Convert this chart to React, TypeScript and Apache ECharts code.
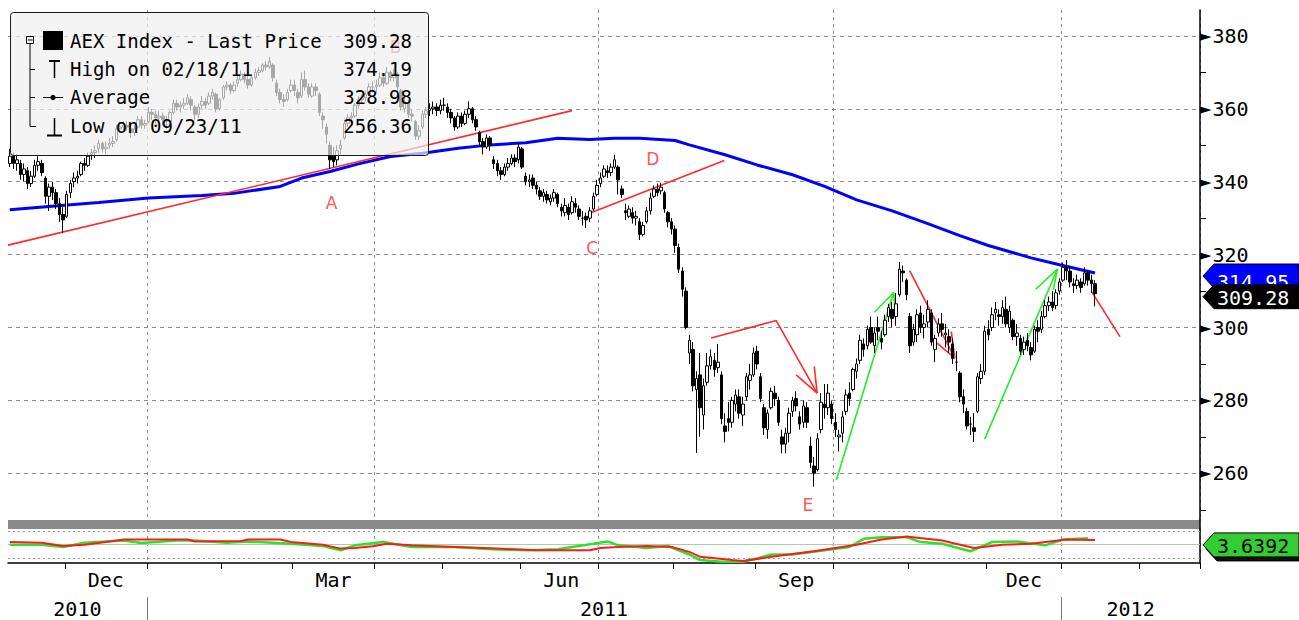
import React, { useEffect, useRef } from "react";
import * as echarts from "echarts";

// ---------- calendar (trading days shown on the category axis) ----------
const START_YEAR = 2010;
const START_MONTH = 10; // November (0-based)
const START_DAY = 9;
const CATEGORY_COUNT = 335;
const HOLIDAYS = ["2011-04-22", "2011-04-25", "2011-12-26"];
const MONTH_NAMES = ["Jan", "Feb", "Mar", "Apr", "May", "Jun", "Jul", "Aug", "Sep", "Oct", "Nov", "Dec"];
const LABELLED_MONTHS = ["03", "06", "09", "12"];
const QUARTER_MONTHS = ["01", "04", "07", "10"];

// ---------- axes ----------
const PRICE_MIN = 247.2;
const PRICE_MAX = 387.1;
const PRICE_TICKS = [260, 280, 300, 320, 340, 360, 380];
const PRICE_MINOR_TICKS = [250, 270, 290, 310, 330, 350, 370];
const OSC_MIN = -14;
const OSC_MAX = 12;
const OSC_GUIDES = [10, -10];

// ---------- summary values ----------
const LAST_PRICE = 309.28;
const MA_LAST = 314.95;
const OSC_LAST = 3.6392;
const legendRows: [string, string][] = [
  ["AEX Index - Last Price", "309.28"],
  ["High on 02/18/11", "374.19"],
  ["Average", "328.98"],
  ["Low on 09/23/11", "256.36"],
];

// ---------- daily candles [open, close, low, high] ----------
const ohlcNov2010 = [
  [345, 347, 344, 349], [347, 345, 343.5, 348], [345, 346, 343, 347.5], [345, 342, 340.5, 346],
  [342, 343.5, 340, 345], [343, 339.5, 338, 344], [339.5, 341.5, 338.5, 343], [341.5, 344.5, 341, 346],
  [344.5, 345.5, 343, 347], [345, 342.5, 341.5, 346], [341, 336, 334, 341.5], [336, 338.5, 332, 339.5],
  [338.5, 337, 335, 340], [337, 334, 332.5, 338], [334, 331, 329, 335.5], [331, 329.5, 326, 333],
];
const ohlcDec2010 = [
  [330.5, 336.5, 330, 337.5], [337, 339.5, 335.5, 340.5], [340, 341, 338.5, 342.5], [341, 341.5, 339.5, 343],
  [342, 345, 341.5, 345.5], [345, 344.5, 343, 346.5], [344.5, 347, 344, 348], [347.5, 348, 346, 349],
  [348, 348.5, 346.5, 350], [349, 350.5, 348, 351.5], [350.5, 349, 348, 351], [349, 349.5, 347.5, 351],
  [350, 350.5, 349, 352], [350.5, 351, 349.5, 352.5], [351.5, 354.5, 351, 355.5], [354.5, 355, 353.5, 356.5],
  [355, 355.5, 354, 356.5], [355.5, 355, 354, 356.5], [354.5, 353.5, 352, 355.5], [353.5, 354.5, 352.5, 355.5],
  [355, 357, 354.5, 358], [357, 355.5, 354.5, 358], [355.5, 356, 354.5, 357],
];
const ohlcJan2011 = [
  [356.5, 359, 356, 360.5], [359, 358.5, 357, 360], [358.5, 357.5, 356, 359.5], [357.5, 358, 356.5, 359.5],
  [358, 357, 355.5, 359], [357, 356.5, 354.5, 358], [356.5, 359, 356, 359.5], [359, 361.5, 358.5, 362.5],
  [361.5, 360.5, 359.5, 362.5], [360.5, 361, 359, 362], [361, 361.5, 360, 363], [361.5, 363, 361, 364],
  [362.5, 361, 359.5, 363.5], [360.5, 358.5, 357, 361], [358.5, 360.5, 357.5, 361.5], [361, 362, 360, 363.5],
  [362, 361, 360, 363], [361.5, 363.5, 361, 364.5], [363.5, 364.5, 362.5, 365.5], [364, 360, 359, 364.5],
  [360, 362.5, 359.5, 363],
];
const ohlcFeb2011 = [
  [363, 366, 362.5, 366.5], [366, 366.5, 365, 367.5], [366.5, 365, 364, 367], [365, 366.5, 364.5, 367.5],
  [367, 368, 366, 369], [368, 369.5, 367.5, 370.5], [369.5, 368, 367, 370], [368, 366.5, 365.5, 369],
  [366.5, 368.5, 366, 369.5], [368.5, 370, 368, 371], [370, 370.5, 369, 371.5], [370.5, 372, 370, 372.5],
  [372, 371.5, 370.5, 373], [371.5, 373, 371, 374.19], [372, 368.5, 367.5, 372.5], [367, 364.5, 363.5, 368],
  [364.5, 362.5, 361.5, 365.5], [362.5, 362, 360.5, 364], [362.5, 364.5, 362, 365.5], [365, 366.5, 364.5, 368],
];
const ohlcMar2011 = [
  [366.5, 365, 363.5, 368], [364.5, 363, 361.5, 365.5], [363.5, 368, 363, 370], [368, 366, 365, 370.5],
  [366, 364, 363, 367], [363.5, 366, 363, 367], [366, 365, 363.5, 367], [364, 359, 358, 364.5],
  [358, 357, 354.5, 359], [355, 353, 350.5, 356], [350, 346, 343.5, 351], [347, 345.5, 344, 349.5],
  [346, 348.5, 344.5, 350], [349, 350, 347.5, 351.5], [352, 356, 351.5, 357], [356, 357.5, 355, 358.5],
  [357.5, 358, 356, 359], [358, 361, 357.5, 361.5], [361, 362.5, 360, 363.5], [362.5, 363, 361.5, 364],
  [363, 364, 362, 365], [364, 366, 363.5, 367], [366, 366, 364.5, 367.5],
];
const ohlcApr2011 = [
  [366, 366.5, 364.5, 368], [366.5, 368.5, 366, 370], [368.5, 367, 366, 369], [367, 370, 366.5, 371.5],
  [370, 368.5, 367.5, 370.5], [368.5, 369.5, 367.5, 371], [369.5, 366, 365, 370], [365, 360.5, 359.5, 365.5],
  [360, 362, 359, 363], [361.5, 358.5, 357.5, 362], [358.5, 358, 356.5, 360], [356.5, 352.5, 351.5, 357],
  [352.5, 354, 351.5, 355.5], [355, 358.5, 354.5, 359.5], [358.5, 359.5, 357.5, 360.5], [359.5, 360, 358, 361.5],
  [360, 360.5, 358.5, 362], [360.5, 359.5, 358, 361.5], [359.5, 361, 358.5, 362.5],
];
const ohlcMay2011 = [
  [361, 361, 359.5, 363], [360.5, 359, 357.5, 361.5], [359, 357.5, 356, 360], [357.5, 355, 354, 358],
  [355, 358, 354.5, 359], [358, 356, 355, 359], [356, 358.5, 355.5, 359.5], [358.5, 360, 357.5, 362],
  [360, 357, 356, 360.5], [357, 355, 354, 358], [353.5, 351, 350, 354], [351, 349.5, 347.5, 352],
  [349.5, 352, 349, 353], [352, 350, 348.5, 352.5], [346, 345, 343.5, 347], [345, 343, 341.5, 346],
  [343, 342, 340.5, 344], [342, 344, 341.5, 345], [344, 345, 343, 346.5], [345, 346.5, 344.5, 347.5],
  [346.5, 345.5, 344, 347.5], [346, 349.5, 345, 350.6],
];
const ohlcJun2011 = [
  [349, 344, 343.5, 349.5], [341.5, 340, 339, 342.5], [340, 340.5, 338.5, 342], [341, 339, 338, 342],
  [339, 338, 336.5, 340], [337.5, 336, 335, 338.5], [336, 337, 334.5, 338], [336.5, 335, 334, 337.5],
  [334.5, 335.5, 333.5, 336.5], [335.5, 337, 334.5, 338], [336.5, 334, 333, 337], [333, 332, 330.5, 334],
  [331.5, 333.5, 330.5, 335.5], [333, 331, 329.5, 334], [331.5, 334.5, 331, 336], [334, 333, 331.5, 335.5],
  [332.5, 330.5, 329.5, 333.5], [330, 330, 328, 332], [330.5, 329.5, 327.3, 331.5], [330, 332, 329, 333],
  [332.5, 336, 332, 337], [336.5, 339, 336, 340.5],
];
const ohlcJul2011 = [
  [339.5, 341, 338.5, 342.5], [341.5, 343.5, 341, 344.5], [343, 342.5, 341, 344.5], [342.5, 344, 341.5, 345],
  [344, 346, 343.5, 347.4], [344, 340.5, 336.5, 344.5], [338, 336.5, 335.5, 339], [332, 331.5, 329.5, 334],
  [330.5, 332.5, 330, 333.5], [331.5, 330, 328.5, 333], [330, 330.5, 328, 332], [329, 325.5, 324, 330],
  [325.5, 328, 325, 329], [329, 332, 328.5, 333], [332, 335.5, 331, 337], [336, 338, 335.5, 339],
  [338, 337, 336, 339.5], [337.5, 338.5, 336.5, 339.7], [337, 332.5, 331.5, 337.5], [331.5, 329, 327.5, 332],
  [329, 327, 325.5, 330],
];
const ohlcAug2011 = [
  [327, 322.5, 320.5, 328], [322, 316, 315, 323], [315.5, 310.5, 308.5, 316.5], [310, 300, 299.5, 311],
  [293, 296.5, 290, 298], [294, 284, 282.5, 296], [283, 286, 265.6, 288], [287, 278, 270, 293],
  [276, 284, 272, 286], [285, 289.5, 284, 293], [289.5, 292, 288.5, 294], [291, 288.5, 286.5, 293],
  [289, 290.5, 287.5, 295.5], [287, 275, 273.5, 288], [273, 271.5, 268.5, 276.5], [275, 274, 271.5, 279.5],
  [274, 280, 272.5, 281], [279, 281.5, 277, 283], [281, 276.5, 275, 283], [276, 279, 273, 281],
  [281, 286.5, 280, 287.5], [285.5, 287, 283, 290], [287, 293, 286.5, 294.5],
];
const ohlcSep2011 = [
  [293.5, 290, 288.5, 295], [286.5, 280.5, 279.5, 287.5], [278, 272.5, 270.5, 279], [272, 276.5, 269.5, 277.5],
  [278, 282.5, 277.5, 283.5], [282, 280.5, 278.5, 284], [280, 274, 273, 281], [270, 268, 265.5, 272],
  [268, 271, 265.5, 272.5], [271, 276.5, 268.5, 278], [277, 280, 275.5, 281], [280.5, 278.5, 277, 282.5],
  [275.5, 273.5, 272, 277], [274, 278.5, 272.5, 280], [278, 274, 272.5, 279.5], [267.5, 263, 261.5, 270],
  [262, 260, 256.36, 264.5], [261, 269.5, 260.5, 271], [272, 279.5, 271, 282], [279, 278, 275, 284.5],
  [278, 282, 276, 284.5], [279, 275, 273.5, 280],
];
const ohlcOct2011 = [
  [274, 272, 270, 276.5], [270, 270.5, 266, 272], [271, 275.5, 268.5, 277], [277, 281.5, 276, 283],
  [282, 280.5, 278.5, 285], [283, 288.5, 282.5, 289], [288, 290, 286, 291.5], [291, 296.5, 290, 298],
  [295.5, 294, 292, 297], [295, 299.5, 294, 300.5], [300, 296, 295.5, 303], [295, 298.5, 293, 300],
  [300, 299, 296.5, 303], [297, 296, 294, 299], [298, 302, 297.5, 303.5], [303, 305.5, 301.5, 306.5],
  [305, 302.5, 300, 307], [303, 306.5, 300.5, 309.5], [309, 316, 308.5, 318], [315.5, 315, 312.5, 317],
  [313, 309, 307.5, 313.5],
];
const ohlcNov2011 = [
  [303, 295, 293, 304], [296, 299.5, 295, 301], [298, 303.5, 296, 305], [304, 300, 298.5, 306],
  [300, 301, 297, 303.5], [301.5, 305, 300, 307.5], [304, 296, 295, 305], [294, 297, 290.5, 298],
  [298.5, 301, 297.5, 302.5], [301, 299.5, 297.5, 304], [298, 298.5, 294.5, 301], [297.5, 296, 293, 299.5],
  [295.5, 291.5, 290, 297], [290.5, 290.5, 288, 293.5], [287.5, 281, 279.5, 288], [281, 279, 276.5, 283],
  [277, 273, 272, 278], [273.5, 273.5, 270.5, 275.5], [272.5, 271.5, 268.6, 276.5], [277, 286.5, 276.5, 287.5],
  [286, 288, 284.5, 290], [288, 299, 287, 300.5],
];
const ohlcDec2011 = [
  [299.5, 298, 296.5, 302], [300, 303.5, 299, 305.5], [304, 305, 302, 307], [303.5, 303, 300.5, 305],
  [303, 305.5, 301, 307.5], [305, 301, 300, 308.5], [300, 304.5, 298.5, 306], [302, 297.5, 296.5, 302.5],
  [297.5, 298.5, 295, 301], [297, 293.5, 292.5, 298], [294, 296, 292.5, 297.5], [296.5, 295, 293.5, 298.5],
  [294.5, 292.5, 291, 296], [293.5, 299.5, 293, 300.5], [300, 299, 296, 302], [299.5, 303, 298.5, 304.5],
  [303, 306, 302.5, 307.5], [306, 307, 304.5, 308.5], [307, 305.5, 304.5, 310], [306, 309.5, 305, 310.5],
  [310, 312.5, 309, 313.5],
];
const ohlcJan2012 = [
  [313, 316.5, 312.5, 317.8], [316.5, 315.5, 313, 318.5], [315.5, 312.5, 311, 316.5], [312, 311.5, 309.5, 313.5],
  [311.5, 313, 310.5, 314.5], [312.5, 311, 309.5, 313.5], [312, 315, 311.5, 316.5], [315, 313, 311.5, 315.5],
  [313, 312, 309.5, 314.5], [312, 309.28, 305.8, 313],
];

// ---------- moving average [trading-day index, value] ----------
const movingAverage = [
  [0, 332.3], [11, 333.2], [25, 334.3], [39, 335.5], [54, 336.2], [63, 336.8], [76, 338.7], [82, 341.0],
  [90, 342.8], [98, 344.9], [107, 346.9], [116, 347.8], [126, 349.2], [135, 350.1], [145, 350.7],
  [154, 351.9], [163, 351.6], [170, 351.9], [177, 351.9], [187, 351.3], [191, 350.1], [201, 347.4],
  [210, 344.6], [220, 341.9], [229, 338.7], [238, 335.0], [248, 332.0], [258, 328.5], [267, 325.2],
  [275, 322.5], [287, 319.1], [295, 317.2], [305, 314.95],
];

// ---------- hand-drawn annotations [trading-day index, price] ----------
const trendAB = [[-0.5, 322.6], [158, 359.5]];
const trendCD = [[163.3, 331.5], [200.8, 345.8]];
const arrowAugPath = [[197.1, 297.1], [215.4, 301.9], [226.9, 282.0]];
const arrowAugHead = [[221, 287.0], [226.9, 282.0], [226.1, 289.3]];
const arrowOctPath = [[232.3, 258.2], [248.4, 309.6]];
const arrowOctHead = [[243, 304.2], [248.4, 309.6], [248.9, 302.7]];
const arrowNovPath = [[252.9, 315.6], [265.6, 291.6]];
const arrowNovHead = [[259.5, 296.6], [265.6, 291.6], [264.6, 298.9]];
const arrowDecPath = [[274, 269.4], [294.4, 316]];
const arrowDecHead = [[288.3, 310.5], [294.4, 316], [293.3, 310.3]];
const trendJan = [[304, 309.9], [312, 297.5]];
const annotationLabels: [string, number, number][] = [
  ["A", 90.4, 334.2], ["B", 108.4, 377], ["C", 163.7, 321.8], ["D", 180.7, 346.2], ["E", 224.3, 251.3],
];

// ---------- lower oscillator panel [trading-day index, value] ----------
const oscSignal = [
  [0, 2], [9, 1.5], [15, -1], [21, 0], [27, 2], [32, 4], [50, 4], [52, 2.5], [65, 2.75], [67, 4], [76, 4],
  [79, 2], [88, 0], [93, -3], [97, -2.5], [102, -1.25], [106, 0.75], [113, -0.5], [125, -1.75], [137, -3],
  [148, -4.25], [163, -4.25], [166, -2.5], [171, -1.75], [179, -1], [186, -1.75], [191, -5.5], [194, -9.25],
  [203, -11.75], [206, -12.5], [214, -9.25], [226, -5], [238, 0], [245, 4], [252, 6.25], [262, 3.25],
  [271, -2.5], [279, 0], [287, 0.75], [297, 4], [305, 3.64],
];
const oscLine = [
  [0, 0], [9, 0], [15, -1.75], [21, 1.5], [27, 2.5], [32, 3.25], [37, 1.25], [47, 3.25], [52, 3.25],
  [61, 1.5], [67, 2.5], [79, 0.75], [88, -1], [93, -4.25], [97, -0.5], [105, 2], [113, -1.75], [125, -1.75],
  [137, -3.75], [146, -4.25], [154, -3.5], [164, 0.75], [168, 2.5], [171, -0.5], [179, -2.5], [185, -1],
  [191, -7.5], [194, -11.75], [200, -13], [206, -13], [210, -10.5], [214, -7.5], [220, -7.5], [229, -4.25],
  [236, -1.75], [240, 4.5], [245, 5.75], [252, 5.75], [256, 2], [262, 0.75], [270, -5], [276, 2], [283, 2.5],
  [291, -0.5], [296, 4], [303, 5],
];

const MONO = "'DejaVu Sans Mono', monospace";

function buildDates(): string[] {
  const out: string[] = [];
  const d = new Date(Date.UTC(START_YEAR, START_MONTH, START_DAY));
  while (out.length < CATEGORY_COUNT) {
    const iso = d.toISOString().slice(0, 10);
    const wd = d.getUTCDay();
    if (wd !== 0 && wd !== 6 && HOLIDAYS.indexOf(iso) < 0) out.push(iso);
    d.setUTCDate(d.getUTCDate() + 1);
  }
  return out;
}

function rangeMids(dates: string[], keyLen: number, accept: (k: string) => boolean): number[] {
  const first: Record<string, number> = {};
  const last: Record<string, number> = {};
  dates.forEach((d, i) => {
    const k = d.slice(0, keyLen);
    if (first[k] === undefined) first[k] = i;
    last[k] = i;
  });
  const s: number[] = [];
  Object.keys(first).forEach((k) => {
    if (accept(k)) s.push(Math.round((first[k] + last[k]) / 2));
  });
  return s;
}

function buildOption() {
  const dates = buildDates();
  const ohlc = [
    ...ohlcNov2010, ...ohlcDec2010, ...ohlcJan2011, ...ohlcFeb2011, ...ohlcMar2011, ...ohlcApr2011,
    ...ohlcMay2011, ...ohlcJun2011, ...ohlcJul2011, ...ohlcAug2011, ...ohlcSep2011, ...ohlcOct2011,
    ...ohlcNov2011, ...ohlcDec2011, ...ohlcJan2012,
  ];
  const isMonthStart = (i: number) => i > 0 && dates[i].slice(5, 7) !== dates[i - 1].slice(5, 7);
  const isQuarterStart = (i: number) => isMonthStart(i) && QUARTER_MONTHS.indexOf(dates[i].slice(5, 7)) >= 0;
  const monthMids = new Set(
    rangeMids(dates, 7, (k) => LABELLED_MONTHS.indexOf(k.slice(5, 7)) >= 0 && dates.filter((d) => d.slice(0, 7) === k).length > 15)
  );
  const yearMids = rangeMids(dates, 4, () => true);
  const yearBounds: number[] = [];
  dates.forEach((d, i) => {
    if (i > 0 && d.slice(0, 4) !== dates[i - 1].slice(0, 4)) yearBounds.push(i - 0.5);
  });

  const gridDash = { color: "#8c8c8c", type: [3, 4] as any, width: 1 };
  const n = CATEGORY_COUNT;

  const annot = (data: number[][], color: string) => ({
    type: "line", xAxisIndex: 1, yAxisIndex: 0, data, symbol: "none", silent: true, z: 4,
    lineStyle: { color, width: 1.6 },
  });

  return {
    animation: false,
    backgroundColor: "#ffffff",
    textStyle: { fontFamily: MONO },
    grid: [
      { left: 8, right: 99, top: 10, height: 510 },
      { left: 8, right: 99, top: 529, height: 34 },
      { left: 8, right: 99, top: 520, height: 9, show: true, backgroundColor: "#8a8a8a", borderWidth: 0 },
    ],
    xAxis: [
      {
        type: "category", gridIndex: 0, data: dates, boundaryGap: true,
        axisLine: { show: false, onZero: false }, axisTick: { show: false }, axisLabel: { show: false },
        splitLine: { show: true, interval: (i: number) => isQuarterStart(i), lineStyle: gridDash },
      },
      { type: "value", gridIndex: 0, min: -0.5, max: n - 0.5, show: false },
      {
        type: "category", gridIndex: 1, data: dates, boundaryGap: true, position: "bottom",
        axisLine: { show: true, onZero: false, lineStyle: { color: "#000", width: 1.5 } },
        axisTick: { show: true, interval: (i: number) => isMonthStart(i), length: 6, lineStyle: { color: "#000", width: 1 } },
        axisLabel: {
          show: true, interval: (i: number) => monthMids.has(i), margin: 7,
          formatter: (v: string) => MONTH_NAMES[parseInt(v.slice(5, 7), 10) - 1],
          color: "#000", fontSize: 20, fontFamily: MONO, showMinLabel: true, showMaxLabel: true,
        },
        splitLine: { show: true, interval: (i: number) => isQuarterStart(i), lineStyle: gridDash },
      },
      { type: "value", gridIndex: 1, min: -0.5, max: n - 0.5, show: false },
      {
        type: "value", gridIndex: 1, min: -0.5, max: n - 0.5, position: "bottom", offset: 34,
        axisLine: { show: false, onZero: false },
        axisTick: { show: true, customValues: yearBounds, length: 24, lineStyle: { color: "#777", width: 1 } },
        axisLabel: {
          show: true, customValues: yearMids, margin: 2,
          formatter: (v: number) => dates[Math.round(v)].slice(0, 4), color: "#000", fontSize: 20, fontFamily: MONO,
        },
        splitLine: { show: false },
      },
      { type: "category", gridIndex: 2, data: dates, show: false },
    ],
    yAxis: [
      {
        type: "value", gridIndex: 0, position: "right", min: PRICE_MIN, max: PRICE_MAX,
        axisLine: { show: true, onZero: false, lineStyle: { color: "#000", width: 1.5 } },
        axisTick: { show: true, customValues: PRICE_MINOR_TICKS, length: 6, lineStyle: { color: "#000", width: 1 } },
        axisLabel: {
          show: true, customValues: PRICE_TICKS, margin: 0,
          formatter: (v: number) => `{t|\u25BA}{n|${v}}`,
          rich: {
            t: { fontSize: 15, color: "#000", fontFamily: "'DejaVu Sans', sans-serif", padding: [0, 1, 0, 0] },
            n: { fontSize: 20, color: "#000", fontFamily: MONO },
          },
        },
        splitLine: { show: false },
      },
      {
        type: "value", gridIndex: 1, position: "right", min: OSC_MIN, max: OSC_MAX,
        axisLine: { show: true, onZero: false, lineStyle: { color: "#000", width: 1.5 } },
        axisTick: { show: false }, axisLabel: { show: false }, splitLine: { show: false },
      },
      {
        type: "value", gridIndex: 2, position: "right", min: 0, max: 1,
        axisLine: { show: true, onZero: false, lineStyle: { color: "#000", width: 1.5 } },
        axisTick: { show: false }, axisLabel: { show: false }, splitLine: { show: false },
      },
    ],
    series: [
      {
        type: "line", name: "MA", xAxisIndex: 1, yAxisIndex: 0, data: movingAverage, symbol: "none",
        silent: true, z: 4, lineStyle: { color: "#0000ff", width: 3 },
        markLine: {
          silent: true, symbol: "none", z: 1, animation: false, label: { show: false },
          lineStyle: { color: "#8c8c8c", type: [4, 4], width: 1 },
          data: PRICE_TICKS.map((v) => ({ yAxis: v })),
        },
      },
      annot(trendAB, "#ff2a2a"),
      annot(trendCD, "#ff2a2a"),
      annot(arrowAugPath, "#ff2a2a"),
      annot(arrowAugHead, "#ff2a2a"),
      annot(arrowNovPath, "#ff2a2a"),
      annot(arrowNovHead, "#ff2a2a"),
      annot(trendJan, "#ff2a2a"),
      annot(arrowOctPath, "#22ee22"),
      annot(arrowOctHead, "#22ee22"),
      annot(arrowDecPath, "#22ee22"),
      annot(arrowDecHead, "#22ee22"),
      {
        type: "candlestick", xAxisIndex: 0, yAxisIndex: 0, data: ohlc, barWidth: 3, z: 5, silent: true,
        itemStyle: { color: "#ffffff", color0: "#000000", borderColor: "#000000", borderColor0: "#000000", borderWidth: 1 },
      },
      {
        type: "scatter", xAxisIndex: 1, yAxisIndex: 0, symbolSize: 0, silent: true, z: 6,
        data: annotationLabels.map(([t, x, y]) => ({ name: t, value: [x, y] })),
        label: { show: true, position: "inside", formatter: "{b}", color: "#ff2a2a", fontSize: 17, fontFamily: "'DejaVu Sans', sans-serif" },
      },
      {
        type: "line", xAxisIndex: 3, yAxisIndex: 1, data: oscLine, symbol: "none", silent: true, z: 3,
        lineStyle: { color: "#2ee02e", width: 2.5 },
        markLine: {
          silent: true, symbol: "none", z: 1, animation: false, label: { show: false },
          data: [
            ...OSC_GUIDES.map((v) => ({ yAxis: v, lineStyle: { color: "#9a9a9a", type: [2, 3], width: 1 } })),
            { yAxis: 0, lineStyle: { color: "#a8d0a8", type: "solid", width: 1 } },
          ],
        },
      },
      {
        type: "line", xAxisIndex: 3, yAxisIndex: 1, data: oscSignal, symbol: "none", silent: true, z: 4,
        lineStyle: { color: "#ff1a1a", width: 2 },
      },
    ],
  };
}

function legendGraphic() {
  const rowY = [29, 57, 85, 114];
  const z = 100;
  const stroke = { stroke: "#000", lineWidth: 1, fill: "none" };
  const children: any[] = [
    { type: "rect", z, shape: { x: 0.5, y: 0.5, width: 418, height: 143, r: 3 }, style: { fill: "rgba(240,240,240,0.7)", stroke: "#1a1a1a", lineWidth: 1 } },
    { type: "rect", z, shape: { x: 16.5, y: 24.5, width: 7, height: 7 }, style: { ...stroke } },
    { type: "line", z, shape: { x1: 18, y1: 28, x2: 22.5, y2: 28 }, style: { ...stroke } },
    { type: "polyline", z, shape: { points: [[20, 32], [20, 114.5], [26, 114.5]] }, style: { ...stroke } },
    { type: "line", z, shape: { x1: 20, y1: 57.5, x2: 25, y2: 57.5 }, style: { ...stroke } },
    { type: "line", z, shape: { x1: 20, y1: 85.5, x2: 25, y2: 85.5 }, style: { ...stroke } },
    { type: "rect", z, shape: { x: 33, y: 19, width: 20, height: 19 }, style: { fill: "#000" } },
    { type: "line", z, shape: { x1: 39, y1: 49, x2: 50, y2: 49 }, style: { stroke: "#000", lineWidth: 2 } },
    { type: "line", z, shape: { x1: 44.5, y1: 49, x2: 44.5, y2: 66 }, style: { stroke: "#000", lineWidth: 1.5 } },
    { type: "line", z, shape: { x1: 33, y1: 85.5, x2: 53, y2: 85.5 }, style: { stroke: "#000", lineWidth: 1 } },
    { type: "circle", z, shape: { cx: 43, cy: 85.5, r: 2.6 }, style: { fill: "#000" } },
    { type: "line", z, shape: { x1: 44.5, y1: 106, x2: 44.5, y2: 123 }, style: { stroke: "#000", lineWidth: 1.5 } },
    { type: "line", z, shape: { x1: 37, y1: 123.5, x2: 52, y2: 123.5 }, style: { stroke: "#000", lineWidth: 2 } },
  ];
  legendRows.forEach(([label, value], k) => {
    children.push({ type: "text", z, style: { text: label, x: 60, y: rowY[k], fill: "#000", font: `19px ${MONO}`, textVerticalAlign: "middle" } });
    children.push({ type: "text", z, style: { text: value, x: 402, y: rowY[k], fill: "#000", font: `19px ${MONO}`, textAlign: "right", textVerticalAlign: "middle" } });
  });
  return { type: "group", x: 10, y: 12, z, silent: true, children };
}

function priceTag(axisX: number, right: number, boxY: number, textY: number, fill: string, color: string, text: string, z: number) {
  return [
    {
      type: "polygon", z, silent: true,
      shape: { points: [[axisX + 3, boxY], [axisX + 14, boxY - 12], [right, boxY - 12], [right, boxY + 12], [axisX + 14, boxY + 12]] },
      style: { fill, stroke: "#000", lineWidth: 1 },
    },
    { type: "text", z: z + 0.5, silent: true, style: { text, x: axisX + 17, y: textY, fill: color, font: `20px ${MONO}`, textVerticalAlign: "middle" } },
  ];
}

export default function App() {
  const ref = useRef<HTMLDivElement>(null);
  useEffect(() => {
    if (!ref.current) return;
    const chart = echarts.init(ref.current, null, { renderer: "svg" });
    chart.setOption(buildOption() as any);
    const axisX = chart.convertToPixel({ xAxisIndex: 1 } as any, CATEGORY_COUNT - 0.5) as number;
    const right = chart.getWidth();
    const yMa = chart.convertToPixel({ yAxisIndex: 0 } as any, MA_LAST) as number;
    const yLast = (chart.convertToPixel({ yAxisIndex: 0 } as any, LAST_PRICE) as number) + 3;
    const yOsc = (chart.convertToPixel({ yAxisIndex: 1 } as any, OSC_LAST) as number) + 5;
    chart.setOption({
      graphic: [
        legendGraphic(),
        ...priceTag(axisX, right, yMa + 3, yMa + 9, "#0000ff", "#ffffff", MA_LAST.toFixed(2), 110),
        ...priceTag(axisX, right, yLast, yLast + 1, "#000000", "#ffffff", LAST_PRICE.toFixed(2), 112),
        {
          type: "polygon", z: 114, silent: true,
          shape: { points: [[axisX + 6, yOsc + 4], [axisX + 17, yOsc - 8], [right, yOsc - 8], [right, yOsc + 16], [axisX + 17, yOsc + 16]] },
          style: { fill: "#111", stroke: "#000", lineWidth: 1 },
        },
        ...priceTag(axisX, right, yOsc, yOsc + 1, "#33cc33", "#000000", String(OSC_LAST), 116),
      ],
    } as any);
    return () => chart.dispose();
  }, []);
  return <div ref={ref} style={{ position: "absolute", left: 0, top: 0, width: 1299, height: 620 }} />;
}
